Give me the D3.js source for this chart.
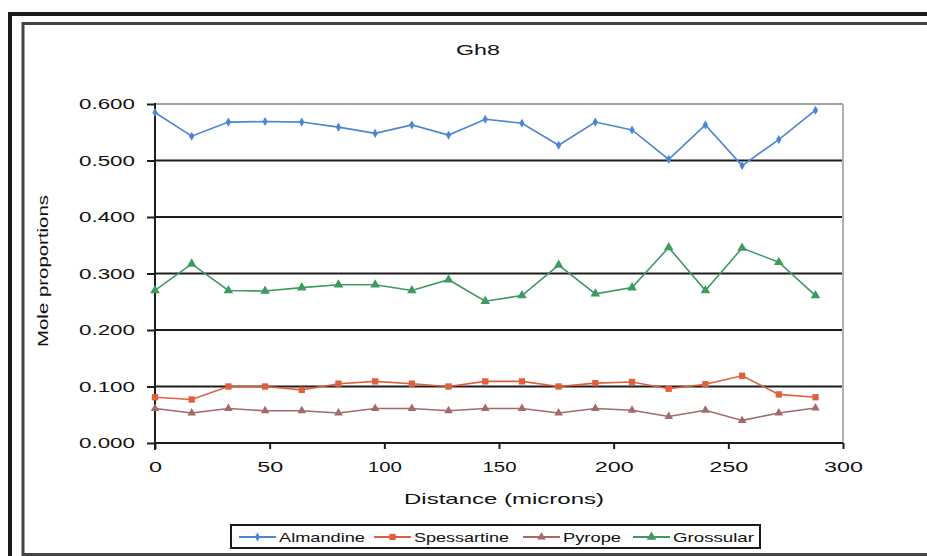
<!DOCTYPE html>
<meta charset="utf-8">
<style>
body{ margin:0; background:white; }
svg text{ font-family: "Liberation Sans", Arial, sans-serif; fill:#111; }
</style>
<svg id="chart" width="927" height="556"></svg>
<script src="https://cdn.jsdelivr.net/npm/d3@7"></script>
<script>

// distance along the traverse (microns)
var distance = [0, 16, 32, 48, 64, 80, 96, 112, 128, 144, 160, 176, 192, 208, 224, 240, 256, 272, 288]

var almandine   = [0.585, 0.543, 0.568, 0.569, 0.568, 0.559, 0.548, 0.563, 0.545, 0.573, 0.566,
                   0.527, 0.568, 0.554, 0.502, 0.563, 0.491, 0.537, 0.589]
var spessartine = [0.081, 0.077, 0.100, 0.100, 0.094, 0.105, 0.109, 0.105, 0.100, 0.109, 0.109,
                   0.100, 0.106, 0.108, 0.096, 0.104, 0.119, 0.086, 0.081]
var pyrope      = [0.061, 0.053, 0.061, 0.057, 0.057, 0.053, 0.061, 0.061, 0.057, 0.061, 0.061,
                   0.053, 0.061, 0.058, 0.047, 0.058, 0.040, 0.053, 0.062]
var grossular   = [0.270, 0.317, 0.270, 0.269, 0.275, 0.280, 0.280, 0.270, 0.289, 0.251, 0.261,
                   0.315, 0.264, 0.275, 0.346, 0.270, 0.345, 0.320, 0.261]

var seriesNames = ['Almandine', 'Spessartine', 'Pyrope', 'Grossular']
var yTicks = [0, 0.1, 0.2, 0.3, 0.4, 0.5, 0.6]
var xTicks = [0, 50, 100, 150, 200, 250, 300]

var series = [
  {name: seriesNames[0], values: almandine,   color: '#4a86d2', symbol: d3.symbolDiamond,  size: 24, legendLen: 86},
  {name: seriesNames[1], values: spessartine, color: '#e0603c', symbol: d3.symbolSquare,   size: 40, legendLen: 95},
  {name: seriesNames[2], values: pyrope,      color: '#a46a6a', symbol: d3.symbolTriangle, size: 32, legendLen: 58},
  {name: seriesNames[3], values: grossular,   color: '#3f9a60', symbol: d3.symbolTriangle, size: 40, legendLen: 81}
]

var svg = d3.select('#chart')

// frame
svg.append('path').attr('d', 'M10,556V14H927')
    .attr('fill', 'none').attr('stroke', '#1a1a1a').attr('stroke-width', 4)
svg.append('path').attr('d', 'M927,23.5H23V554.5H927')
    .attr('fill', 'none').attr('stroke', '#444').attr('stroke-width', 3)

var x = d3.scaleLinear().domain([0, 300]).range([155, 843])
var y = d3.scaleLinear().domain([0, 0.6]).range([443, 104])

// title
svg.append('text').attr('x', 478).attr('y', 55)
    .attr('text-anchor', 'middle').style('font-size', '14px')
    .attr('textLength', 44).attr('lengthAdjust', 'spacingAndGlyphs')
    .text('Gh8')

// grid
svg.selectAll('.grid').data(yTicks.slice(1)).enter().append('line')
    .attr('x1', x(0)).attr('x2', x(300))
    .attr('y1', function(d){ return y(d) }).attr('y2', function(d){ return y(d) })
    .attr('stroke', function(d){ return d === 0.6 ? '#a0a0a0' : '#1e1e1e' })
    .attr('stroke-width', 2)

// right border of plot area
svg.append('line').attr('x1', x(300)).attr('x2', x(300)).attr('y1', y(0.6)).attr('y2', y(0))
    .attr('stroke', '#b0b0b0').attr('stroke-width', 2)

// y axis
var yAxis = svg.append('g').attr('transform', 'translate(' + x(0) + ',0)')
    .call(d3.axisLeft(y).tickValues(yTicks).tickFormat(d3.format('.3f')).tickSize(8).tickPadding(12))
yAxis.select('.domain').remove()
yAxis.selectAll('line').attr('stroke', '#1e1e1e').attr('stroke-width', 2)
yAxis.selectAll('text').style('font-size', '15px').style('font-family', null)
    .attr('textLength', 56).attr('lengthAdjust', 'spacingAndGlyphs')
svg.append('line').attr('x1', x(0)).attr('x2', x(0)).attr('y1', y(0.6) - 1).attr('y2', y(0) + 7)
    .attr('stroke', '#1e1e1e').attr('stroke-width', 2)

// x axis
var xAxis = svg.append('g').attr('transform', 'translate(0,' + y(0) + ')')
    .call(d3.axisBottom(x).tickValues(xTicks).tickSize(6).tickPadding(12))
xAxis.select('.domain').remove()
xAxis.selectAll('line').attr('stroke', '#1e1e1e').attr('stroke-width', 2)
xAxis.selectAll('text').style('font-size', '15px').style('font-family', null)
    .attr('textLength', function(d){ var s = String(d); return s.length * 13 - (s.indexOf('1') >= 0 ? 5 : 0) })
    .attr('lengthAdjust', 'spacingAndGlyphs')
svg.append('line').attr('x1', x(0) - 1).attr('x2', x(300)).attr('y1', y(0)).attr('y2', y(0))
    .attr('stroke', '#1e1e1e').attr('stroke-width', 2)

// axis titles
svg.append('text').attr('x', 504).attr('y', 504)
    .attr('text-anchor', 'middle').style('font-size', '15px')
    .attr('textLength', 200).attr('lengthAdjust', 'spacingAndGlyphs')
    .text('Distance (microns)')
svg.append('text').attr('transform', 'translate(48,271) rotate(-90)')
    .attr('text-anchor', 'middle').style('font-size', '14px')
    .attr('textLength', 152).attr('lengthAdjust', 'spacingAndGlyphs')
    .text('Mole proportions')

// series
var line = d3.line()
    .x(function(d, i){ return x(distance[i]) })
    .y(function(d){ return y(d) })

series.forEach(function(s){
  svg.append('path').datum(s.values)
      .attr('d', line).attr('fill', 'none')
      .attr('stroke', s.color).attr('stroke-width', 1.6)
  svg.append('g').selectAll('path').data(s.values).enter().append('path')
      .attr('d', d3.symbol().type(s.symbol).size(s.size))
      .attr('transform', function(d, i){ return 'translate(' + x(distance[i]) + ',' + y(d) + ')' })
      .attr('fill', s.color)
})

// legend
var legend = svg.append('g')
legend.append('rect').attr('x', 231).attr('y', 525).attr('width', 529).attr('height', 23)
    .attr('fill', 'white').attr('stroke', '#1a1a1a').attr('stroke-width', 2)
var legendX = [239, 374, 523, 633]
series.forEach(function(s, i){
  var g = legend.append('g').attr('transform', 'translate(' + legendX[i] + ',537)')
  g.append('line').attr('x1', 0).attr('x2', 37).attr('stroke', s.color).attr('stroke-width', 2)
  g.append('path').attr('d', d3.symbol().type(s.symbol).size(s.size))
      .attr('transform', 'translate(18.5,0)').attr('fill', s.color)
  g.append('text').attr('x', 40).attr('y', 5).style('font-size', '13px')
      .attr('textLength', s.legendLen).attr('lengthAdjust', 'spacingAndGlyphs')
      .text(s.name)
})

</script>
